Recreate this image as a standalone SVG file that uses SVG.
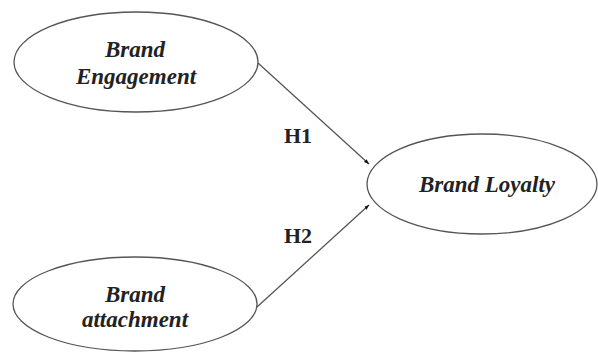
<svg xmlns="http://www.w3.org/2000/svg" width="598" height="352" viewBox="0 0 598 352">
<defs>
<style>
.node ellipse{fill:#fff;stroke:#555;stroke-width:1.3}
.lbl{font-family:"Liberation Serif",serif;font-weight:bold;font-style:italic;font-size:23px;fill:#222;text-anchor:middle}
.h{font-family:"Liberation Serif",serif;font-weight:bold;font-size:22px;fill:#222}
.edge{stroke:#555;stroke-width:1.3;fill:none}
</style>
<marker id="arr" markerWidth="8" markerHeight="8" refX="5" refY="4" orient="auto" markerUnits="userSpaceOnUse">
<path d="M0,2 L5,4 L0,6 Z" fill="#111"/>
</marker>
</defs>
<rect width="598" height="352" fill="#fff"/>
<g id="connectors">
<line class="edge" x1="258" y1="63" x2="369" y2="164" marker-end="url(#arr)"/>
<line class="edge" x1="257" y1="307" x2="369" y2="205" marker-end="url(#arr)"/>
<text class="h" x="284" y="143">H1</text>
<text class="h" x="284" y="243">H2</text>
</g>
<g id="brand-engagement" class="node">
<ellipse cx="136" cy="62" rx="122" ry="50"/>
<text class="lbl" x="135" y="57">Brand</text>
<text class="lbl" x="136" y="84">Engagement</text>
</g>
<g id="brand-attachment" class="node">
<ellipse cx="135" cy="304" rx="122" ry="47"/>
<text class="lbl" x="135" y="302">Brand</text>
<text class="lbl" x="135" y="327">attachment</text>
</g>
<g id="brand-loyalty" class="node">
<ellipse cx="482" cy="184" rx="115" ry="50"/>
<text class="lbl" x="487" y="192">Brand Loyalty</text>
</g>
</svg>
